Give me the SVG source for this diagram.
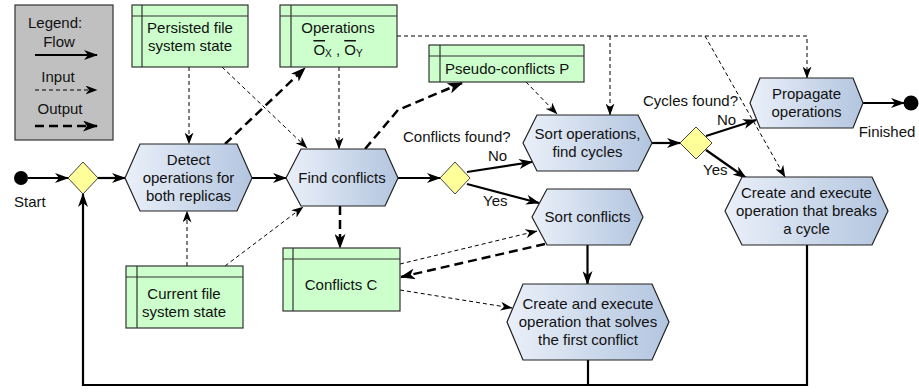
<svg xmlns="http://www.w3.org/2000/svg" width="919" height="392" viewBox="0 0 919 392">
<defs>
<linearGradient id="hexg" x1="0" y1="0" x2="1" y2="0">
<stop offset="0" stop-color="#eaf0f9"/>
<stop offset="1" stop-color="#b3c5df"/>
</linearGradient>
<marker id="af" markerUnits="userSpaceOnUse" viewBox="0 0 14 10" markerWidth="14" markerHeight="10" refX="13" refY="5" orient="auto">
<path d="M0,0 L14,5 L0,10 L4,5 z" fill="#000"/>
</marker>
<marker id="ai" markerUnits="userSpaceOnUse" viewBox="0 0 12 9" markerWidth="12" markerHeight="9" refX="11.5" refY="4.5" orient="auto">
<path d="M0,0 L12,4.5 L0,9 L3.5,4.5 z" fill="#000"/>
</marker>
<marker id="ao" markerUnits="userSpaceOnUse" viewBox="0 0 15 11" markerWidth="15" markerHeight="11" refX="14" refY="5.5" orient="auto">
<path d="M0,0 L15,5.5 L0,11 L4,5.5 z" fill="#000"/>
</marker>
</defs>
<style>
text{font-family:"Liberation Sans",Arial,sans-serif;font-size:15px;fill:#111}
.c{text-anchor:middle}
.hex{fill:url(#hexg);stroke:#222;stroke-width:1.2}
.dia{fill:#ffff99;stroke:#444;stroke-width:1}
.ds{fill:#ccffcc;stroke:#333;stroke-width:1.2}
.dsl{fill:none;stroke:#333;stroke-width:1.2}
.flow{fill:none;stroke:#000;stroke-width:2.2}
.in{fill:none;stroke:#000;stroke-width:1;stroke-dasharray:4 3}
.out{fill:none;stroke:#000;stroke-width:2.5;stroke-dasharray:9 5}
</style>

<g id="legend">
<rect x="15" y="5" width="98" height="135" fill="#c0c0c0" stroke="#333" stroke-width="1.2"/>
<text x="28" y="28">Legend:</text>
<text class="c" x="59" y="47">Flow</text>
<path class="flow" d="M35,55 H97" marker-end="url(#af)"/>
<text class="c" x="58" y="82">Input</text>
<path class="in" d="M35,90 H97" marker-end="url(#ai)"/>
<text class="c" x="60" y="114">Output</text>
<path class="out" d="M35,126 H97" marker-end="url(#ao)"/>
</g>

<g id="connectors">
<!-- flows -->
<path class="flow" d="M28,178 H68" marker-end="url(#af)"/>
<path class="flow" d="M98,178 H125" marker-end="url(#af)"/>
<path class="flow" d="M252,178 H286" marker-end="url(#af)"/>
<path class="flow" d="M398,178 H440" marker-end="url(#af)"/>
<path class="flow" d="M467,172 L532,162" marker-end="url(#af)"/>
<path class="flow" d="M467,184 L539,203" marker-end="url(#af)"/>
<path class="flow" d="M652,143 H680" marker-end="url(#af)"/>
<path class="flow" d="M706,136 L756,120" marker-end="url(#af)"/>
<path class="flow" d="M706,150 L746,178" marker-end="url(#af)"/>
<path class="flow" d="M863,103 H904" marker-end="url(#af)"/>
<path class="flow" d="M587.5,245 V284" marker-end="url(#af)"/>
<path class="flow" d="M588,360 V385"/>
<path class="flow" d="M807,245 V385 H83 V194" marker-end="url(#af)"/>
<!-- inputs -->
<path class="in" d="M189,67 V144" marker-end="url(#ai)"/>
<path class="in" d="M222,67 L307,148" marker-end="url(#ai)"/>
<path class="in" d="M339,67 V149" marker-end="url(#ai)"/>
<path class="in" d="M187,266 V211" marker-end="url(#ai)"/>
<path class="in" d="M225,266 L303,207" marker-end="url(#ai)"/>
<path class="in" d="M526,82 L557,114" marker-end="url(#ai)"/>
<path class="in" d="M397,36 H807 V78" marker-end="url(#ai)"/>
<path class="in" d="M610,36 V115" marker-end="url(#ai)"/>
<path class="in" d="M705,36 L785,177" marker-end="url(#ai)"/>
<path class="in" d="M400,264 L537,231" marker-end="url(#ai)"/>
<path class="in" d="M400,290 L512,308" marker-end="url(#ai)"/>
<!-- outputs -->
<path class="out" d="M225,144 L305,68" marker-end="url(#ao)"/>
<path class="out" d="M365,149 L398,110 L462,83" marker-end="url(#ao)"/>
<path class="out" d="M340,206 V248" marker-end="url(#ao)"/>
<path class="out" d="M545,244 L401,277" marker-end="url(#ao)"/>
</g>

<g id="start">
<circle cx="21" cy="178" r="7" fill="#000"/>
<text x="14" y="207">Start</text>
</g>
<g id="finished">
<circle cx="911" cy="103" r="7.5" fill="#000"/>
<text class="c" x="887" y="137">Finished</text>
</g>

<g id="merge">
<polygon class="dia" points="83,162 98,178 83,194 68,178"/>
</g>

<g id="detect">
<polygon class="hex" points="125,178 140,144 237,144 252,178 237,211 140,211"/>
<text class="c" x="188.5" y="165">Detect</text>
<text class="c" x="188.5" y="183">operations for</text>
<text class="c" x="188.5" y="201">both replicas</text>
</g>

<g id="find">
<polygon class="hex" points="286,178 301,149 385,149 398,178 385,206 301,206"/>
<text class="c" x="342" y="183">Find conflicts</text>
</g>

<g id="conflictsFound">
<polygon class="dia" points="455,162 470,178 455,194 440,178"/>
<text x="403" y="142">Conflicts found?</text>
<text x="488" y="161">No</text>
<text x="483" y="206">Yes</text>
</g>

<g id="sortOps">
<polygon class="hex" points="523,143 537,115 638,115 652,143 638,171 537,171"/>
<text class="c" x="587.5" y="139">Sort operations,</text>
<text class="c" x="587.5" y="157">find cycles</text>
</g>

<g id="cyclesFound">
<polygon class="dia" points="696,127 712,143 696,159 680,143"/>
<text x="643" y="106">Cycles found?</text>
<text x="717" y="125">No</text>
<text x="703" y="175">Yes</text>
</g>

<g id="propagate">
<polygon class="hex" points="750,103 760,78 853,78 863,103 853,128 760,128"/>
<text class="c" x="806.5" y="99">Propagate</text>
<text class="c" x="806.5" y="117">operations</text>
</g>

<g id="breakCycle">
<polygon class="hex" points="725,211 742,177 872,177 888,211 872,245 742,245"/>
<text class="c" x="806.5" y="198">Create and execute</text>
<text class="c" x="806.5" y="216">operation that breaks</text>
<text class="c" x="806.5" y="234">a cycle</text>
</g>

<g id="sortConflicts">
<polygon class="hex" points="532,217 547,189 630,189 643,217 630,245 547,245"/>
<text class="c" x="587.5" y="222">Sort conflicts</text>
</g>

<g id="solveConflict">
<polygon class="hex" points="507,322 523,284 652,284 669,322 652,360 523,360"/>
<text class="c" x="588" y="309">Create and execute</text>
<text class="c" x="588" y="327">operation that solves</text>
<text class="c" x="588" y="345">the first conflict</text>
</g>

<g id="persisted">
<rect class="ds" x="132" y="5" width="116" height="62"/>
<path class="dsl" d="M132,16 H248 M142,5 V67"/>
<text class="c" x="190" y="33">Persisted file</text>
<text class="c" x="190" y="51">system state</text>
</g>

<g id="operations">
<rect class="ds" x="280" y="5" width="117" height="62"/>
<path class="dsl" d="M280,16 H397 M291,5 V67"/>
<text class="c" x="338" y="33">Operations</text>
<text class="c" x="338" y="55"><tspan text-decoration="overline">O</tspan><tspan font-size="10" dy="2">X</tspan><tspan dy="-2"> , </tspan><tspan text-decoration="overline">O</tspan><tspan font-size="10" dy="2">Y</tspan></text>
</g>

<g id="pseudo">
<rect class="ds" x="429" y="45" width="155" height="37"/>
<path class="dsl" d="M429,56 H584 M440,45 V82"/>
<text x="445" y="74">Pseudo-conflicts P</text>
</g>

<g id="conflictsC">
<rect class="ds" x="283" y="248" width="117" height="63"/>
<path class="dsl" d="M283,259 H400 M293,248 V311"/>
<text class="c" x="341" y="290">Conflicts C</text>
</g>

<g id="current">
<rect class="ds" x="126" y="266" width="117" height="62"/>
<path class="dsl" d="M126,277 H243 M137,266 V328"/>
<text class="c" x="184" y="299">Current file</text>
<text class="c" x="184" y="317">system state</text>
</g>
</svg>
